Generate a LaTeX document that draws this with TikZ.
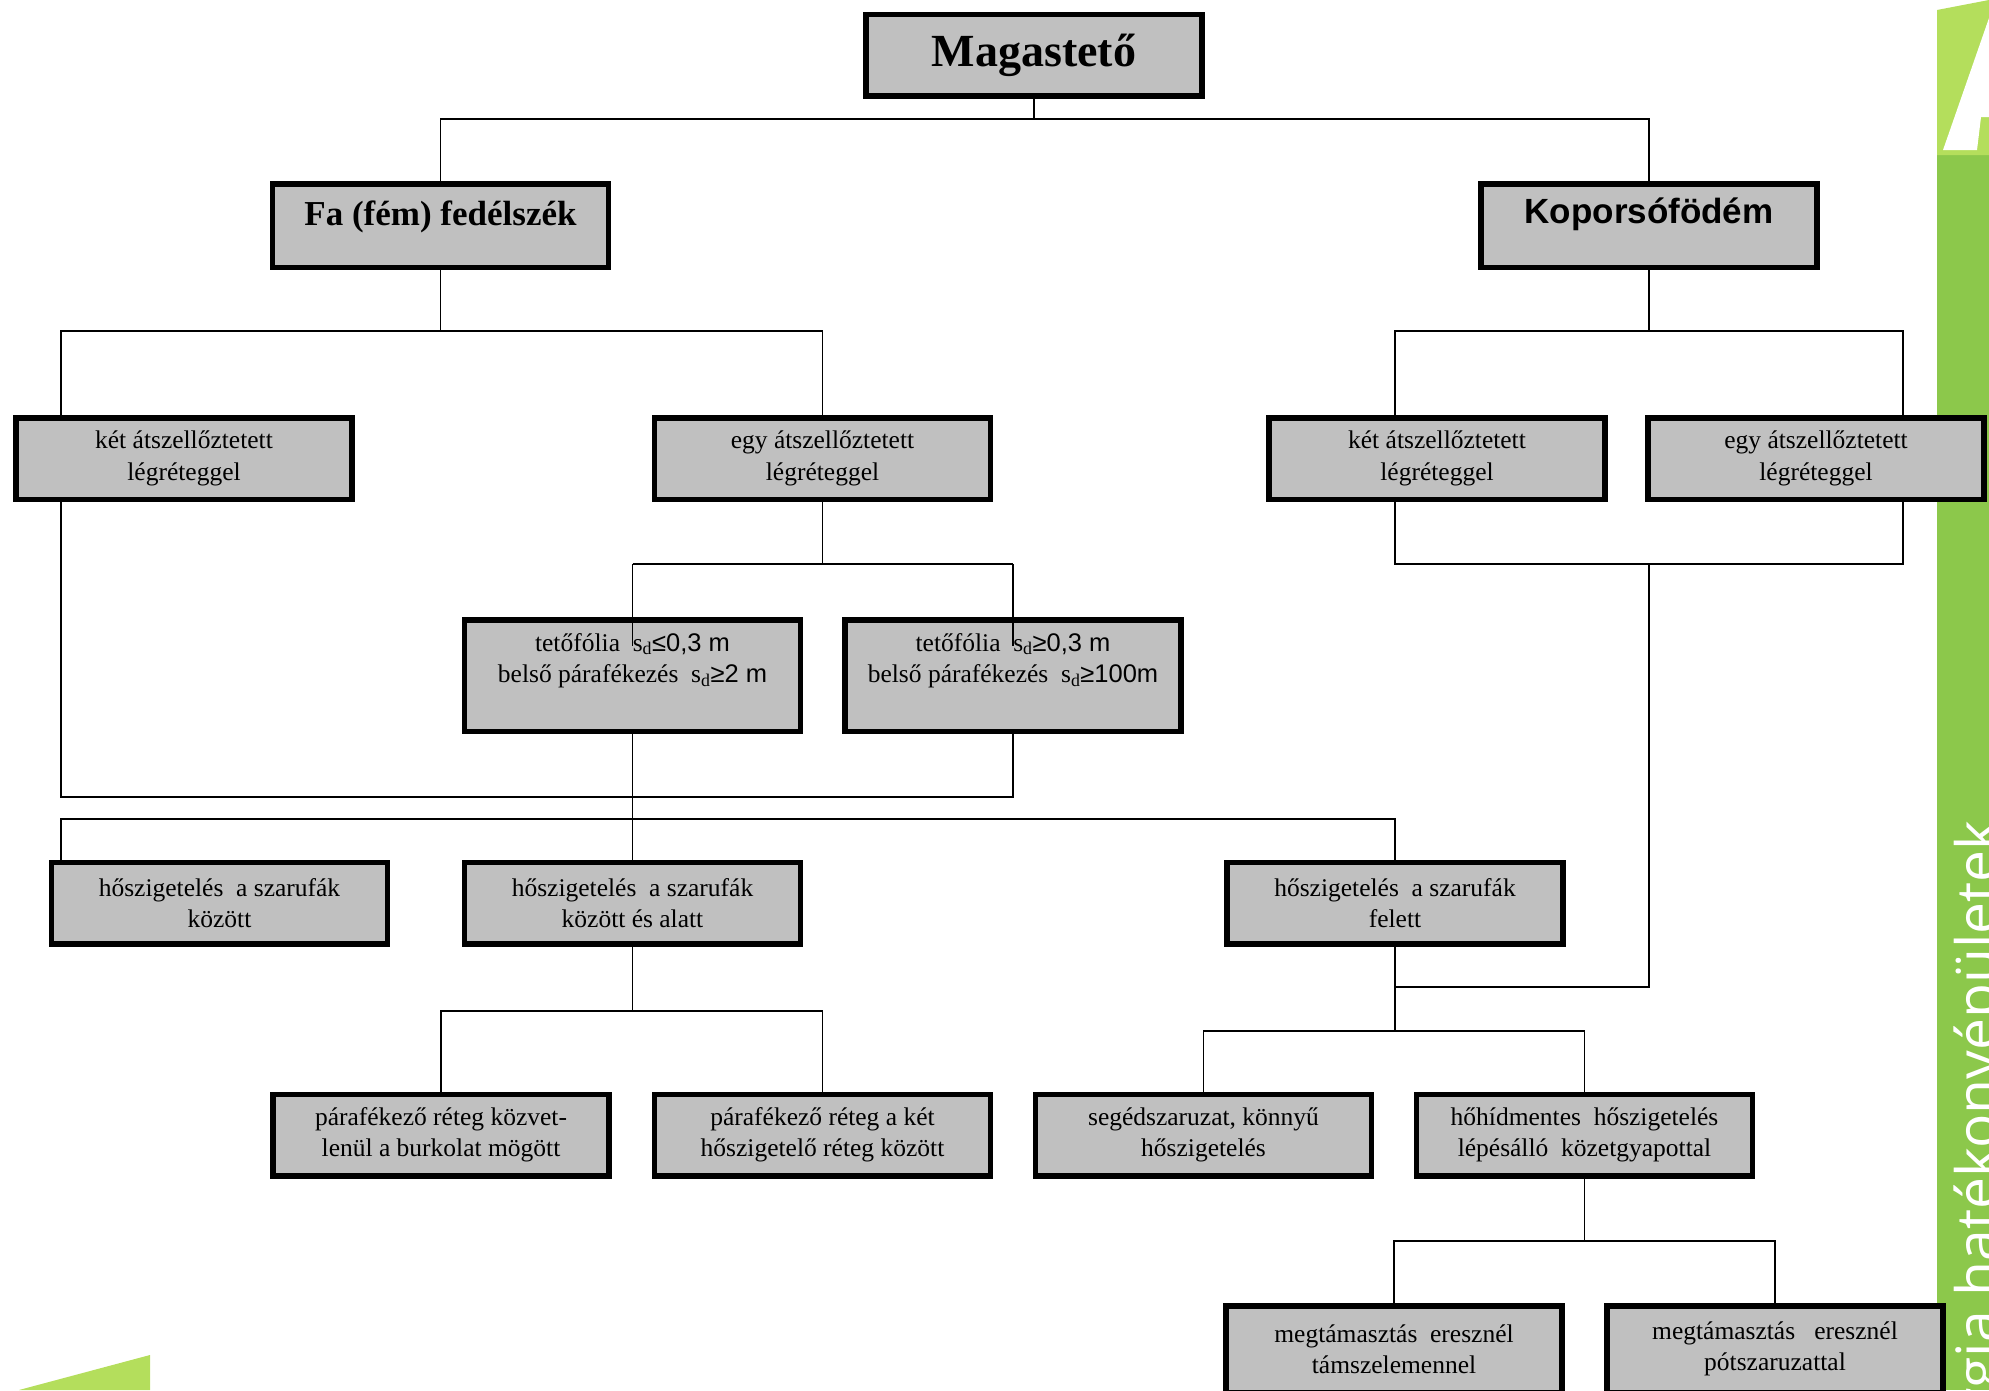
\documentclass[tikz,border=0pt]{standalone}
\usepackage{fontspec}
\setmainfont{Liberation Serif}
\newfontfamily\arialfont{Liberation Sans}
\newfontfamily\greenfont{Open Sans}
\usetikzlibrary{backgrounds}
\definecolor{boxgray}{HTML}{C0C0C0}
\definecolor{barGreen}{HTML}{8CC84B}
\definecolor{lightGreen}{HTML}{B4DE5C}
\newcommand{\sdx}{s\textsubscript{d}}
\begin{document}
\begin{tikzpicture}[x=1pt,y=-1pt,
  box/.style={draw=black, line width=5.5pt, fill=boxgray, inner sep=0pt,
    minimum width=336pt, minimum height=81.5pt, align=center,
    font=\fontsize{25.5}{31.5}\selectfont},
  tallbox/.style={minimum height=111.5pt},
  midbox/.style={minimum height=83.5pt},
  conn/.style={line width=1.8pt, draw=black},
  lbl/.style={inner sep=0pt, align=center, font=\fontsize{25.5}{31.5}\selectfont}]
\useasboundingbox (0,0) rectangle (1989,1390);
\clip (0,0) rectangle (1989,1390);

% right green bar
\fill[barGreen] (1937,150) rectangle (1989,1390);
\fill[lightGreen] (1937,10) -- (1989,0) -- (1989,155) -- (1937,155) -- cycle;
\fill[white] (1943,150) -- (1977,150) -- (1981,117) -- (1989,117) -- (1989,18) -- cycle;
\node[rotate=90, anchor=base east, text=white, inner sep=0pt,
  font=\greenfont\fontsize{57}{57}\selectfont] (gtxt) at (1997,820) {energia hatékonyépületek};
% bottom-left logo triangle
\fill[lightGreen] (19,1390) -- (150,1355) -- (150,1390) -- cycle;

% boxes
\node[box, font=\bfseries\fontsize{46}{50}\selectfont] (mag) at (1034,55) {Magastető};
\node[box, midbox] (fa) at (440.5,225.5) {};
\node[lbl, font=\bfseries\fontsize{35}{40}\selectfont] (faT) at ([yshift=9pt]fa.center) {Fa (fém) fedélszék};
\node[box, midbox] (kop) at (1649,225.5) {};
\node[lbl, font=\arialfont\bfseries\fontsize{35}{40}\selectfont] (kopT) at ([yshift=11pt]kop.center) {Koporsófödém};

\node[box] (ket1) at (184,458.5) {két átszellőztetett\\légréteggel};
\node[box] (egy1) at (822.5,458.5) {egy átszellőztetett\\légréteggel};
\node[box] (ket2) at (1437,458.5) {két átszellőztetett\\légréteggel};
\node[box] (egy2) at (1816,458.5) {egy átszellőztetett\\légréteggel};

\node[box, tallbox] (tf1) at (632.5,675.5) {};
\node[lbl] (tf1T) at ([yshift=15pt]tf1.center) {tetőfólia~ \sdx{\arialfont ≤0,3 m}\\belső párafékezés~ \sdx{\arialfont ≥2 m}};
\node[box, tallbox] (tf2) at (1013,675.5) {};
\node[lbl] (tf2T) at ([yshift=15pt]tf2.center) {tetőfólia~ \sdx{\arialfont ≥0,3 m}\\belső párafékezés~ \sdx{\arialfont ≥100m}};

\node[box] (hsz1) at (219.5,903) {hőszigetelés~ a szarufák\\között};
\node[box] (hsz2) at (632.5,903) {hőszigetelés~ a szarufák\\között és alatt};
\node[box] (hsz3) at (1395,903) {hőszigetelés~ a szarufák\\felett};

\node[box] (pf1) at (441,1135) {párafékező réteg közvet-\\lenül a burkolat mögött};
\node[box] (pf2) at (822.5,1135) {párafékező réteg a két\\hőszigetelő réteg között};
\node[box] (seg) at (1203.5,1135) {segédszaruzat, könnyű\\hőszigetelés};
\node[box] (hoh) at (1584.5,1135) {hőhídmentes~ hőszigetelés\\lépésálló~ közetgyapottal};

\node[box, minimum height=86.5pt] (meg1) at (1394,1349) {megtámasztás~ eresznél\\támszelemennel};
\node[box, minimum height=86.5pt] (meg2) at (1775,1349) {megtámasztás~~ eresznél\\pótszaruzattal};

% junction coordinates
\coordinate (j0) at (1034,119);
\coordinate (j1) at (440.5,331);
\coordinate (ka) at (61,331);
\coordinate (j2) at (1649,331);
\coordinate (kL) at (1395,331);
\coordinate (kR) at (1903,331);
\coordinate (kLb) at (1395,564);
\coordinate (kRb) at (1903,564);
\coordinate (kM) at (1649,564);
\coordinate (kMb) at (1649,987);
\coordinate (felJ) at (1395,987);
\coordinate (e1) at (822.5,564);
\coordinate (tL) at (632.5,564);
\coordinate (tR) at (1013,564);
\coordinate (tLin) at (632.5,646);
\coordinate (tRin) at (1013,646);
\coordinate (b1L) at (61,797);
\coordinate (b1R) at (1013,797);
\coordinate (b2L) at (61,819);
\coordinate (b2R) at (1395,819);
\coordinate (sJ) at (1395,1031);
\coordinate (pJ) at (632.5,1011);
\coordinate (mJ) at (1584.5,1241);

\begin{pgfonlayer}{background}
\draw[conn] (mag.south) -- (j0);
\draw[conn] (fa.north) |- (j0) -| (kop.north);
\draw[conn] (fa.south) -- (j1);
\draw[conn] (ket1.north -| ka) -- (ka) -- (j1) -| (egy1.north);
\draw[conn] (kop.south) -- (j2);
\draw[conn] (ket2.north -| kL) -- (kL) -- (kR) -- (egy2.north -| kR);
\draw[conn] (ket2.south -| kL) -- (kLb) -- (kRb) -- (egy2.south -| kR);
\draw[conn] (kM) -- (kMb) -- (felJ);
\draw[conn] (egy1.south) -- (e1);
\draw[conn] (tL) -- (tR);
\draw[conn] (ket1.south -| ka) -- (b1L) -- (b1R) -- (tf2.south);
\draw[conn] (tf1.south) -- (hsz2.north);
\draw[conn] (hsz1.north -| b2L) -- (b2L) -- (b2R) -- (hsz3.north);
\draw[conn] (hsz3.south) -- (sJ);
\draw[conn] (seg.north) |- (sJ) -| (hoh.north);
\draw[conn] (hsz2.south) -- (pJ);
\draw[conn] (pf1.north) |- (pJ) -| (pf2.north);
\draw[conn] (hoh.south) -- (mJ);
\draw[conn] (meg1.north) |- (mJ) -| (meg2.north);
\end{pgfonlayer}
% connector stubs that run into the two foil boxes
\draw[conn] (tL) -- (tLin);
\draw[conn] (tR) -- (tRin);
\end{tikzpicture}
\end{document}
